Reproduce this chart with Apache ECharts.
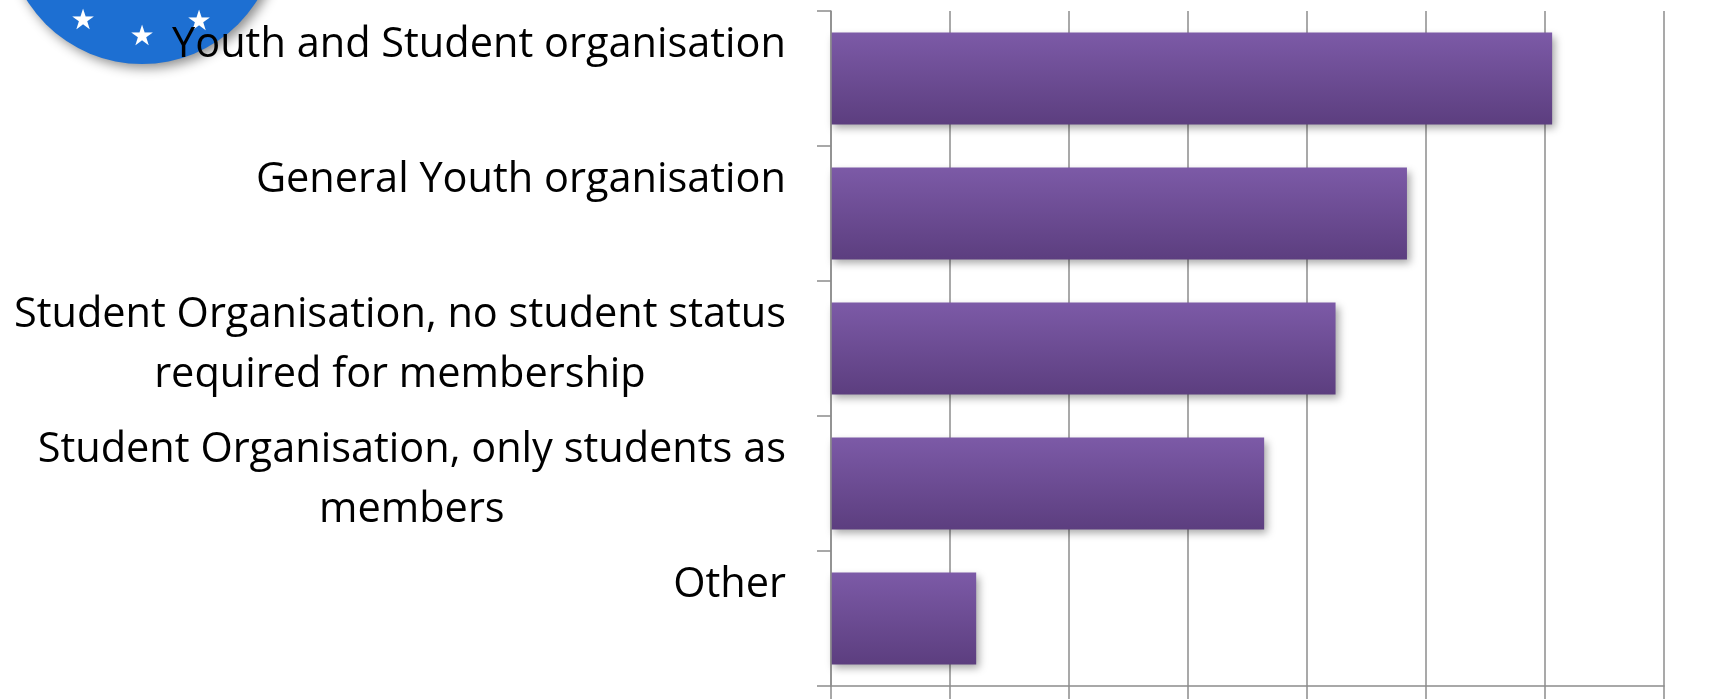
<!DOCTYPE html>
<html>
<head>
<meta charset="utf-8">
<script src="https://cdn.jsdelivr.net/npm/echarts@6/dist/echarts.min.js"></script>
<style>
  html, body { margin: 0; padding: 0; background: #fff; }
  #main { width: 1721px; height: 699px; }
</style>
</head>
<body>
<div id="main"></div>
<script>
// categories top to bottom
var categories = [
    'Youth and Student organisation',
    'General Youth organisation',
    'Student Organisation, no student status\nrequired for membership',
    'Student Organisation, only students as\nmembers',
    'Other'
];
// share of answers, %
var values = [30.3, 24.2, 21.2, 18.2, 6.1];
var axisMin = 0, axisMax = 35, axisStep = 5;

var labelFont = '"Open Sans", sans-serif';
var gridColor = '#8c8c8c';

var dom = document.getElementById('main');
var myChart = echarts.init(dom);

function star(x, y) {
    return {
        type: 'text', z: 1, x: x, y: y,
        style: { text: '★', fill: '#fff', font: '28px "DejaVu Sans"', align: 'center', verticalAlign: 'middle' }
    };
}

var option = {
    backgroundColor: '#fff',
    animation: false,
    grid: {
        left: 831,
        right: 57,
        top: 11,
        bottom: 13
    },
    // logo in the corner
    graphic: [
        {
            type: 'circle',
            z: 0,
            shape: { cx: 142, cy: -72, r: 136 },
            style: {
                fill: '#1d6fd2',
                shadowBlur: 12,
                shadowOffsetX: 4,
                shadowOffsetY: 4,
                shadowColor: 'rgba(0,0,0,0.45)'
            }
        },
        star(83, 22),
        star(142, 38),
        star(199, 23)
    ],
    xAxis: {
        type: 'value',
        min: axisMin,
        max: axisMax,
        interval: axisStep,
        axisLine: { show: true, lineStyle: { color: gridColor, width: 1.5 } },
        axisTick: { show: true, length: 14, lineStyle: { color: gridColor, width: 1.5 } },
        axisLabel: { show: false },
        splitLine: { show: true, lineStyle: { color: gridColor, width: 1.5 } }
    },
    yAxis: {
        type: 'category',
        data: categories,
        inverse: true,
        z: 10,
        axisLine: { show: true, lineStyle: { color: gridColor, width: 1.5 } },
        axisTick: { show: true, length: 14, lineStyle: { color: gridColor, width: 1.5 } },
        axisLabel: {
            margin: 45,
            color: '#000',
            fontFamily: labelFont,
            fontSize: 41.5,
            lineHeight: 60,
            align: 'right',
            padding: [0, 0, 6, 0],
            formatter: function (v) {
                var lines = v.split('\n');
                if (lines.length < 2) lines.push(' ');
                return lines.map(function (l) { return '{c|' + l + '}'; }).join('\n');
            },
            rich: {
                c: {
                    align: 'center',
                    color: '#000',
                    fontFamily: labelFont,
                    fontSize: 41.5,
                    lineHeight: 60
                }
            }
        }
    },
    series: [
        {
            type: 'bar',
            data: values,
            barCategoryGap: '32%',
            itemStyle: {
                color: new echarts.graphic.LinearGradient(0, 0, 0, 1, [
                    { offset: 0, color: '#7c5aa7' },
                    { offset: 1, color: '#5c3e7f' }
                ]),
                shadowBlur: 8,
                shadowOffsetX: 3,
                shadowOffsetY: 4,
                shadowColor: 'rgba(0,0,0,0.35)'
            }
        }
    ]
};

myChart.setOption(option);
</script>
</body>
</html>
